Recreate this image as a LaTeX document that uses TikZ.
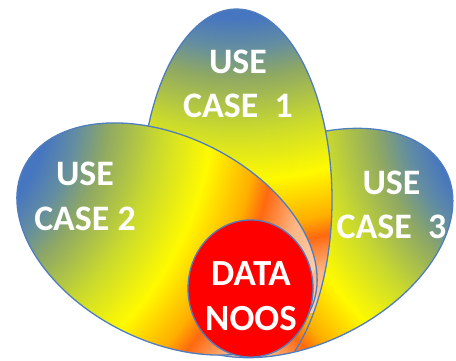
\documentclass[tikz,border=0pt]{standalone}
\usepackage{fontspec}
\setmainfont{Carlito}
\definecolor{petalblue}{RGB}{70,118,192}
\definecolor{petalslate}{RGB}{100,142,160}
\definecolor{petalolive}{RGB}{142,168,100}
\definecolor{petalyg}{RGB}{202,218,45}
\definecolor{petalyellow}{RGB}{255,250,0}
\definecolor{petalorange}{RGB}{255,175,0}
\definecolor{petaldeep}{RGB}{255,105,15}
\definecolor{petallight}{RGB}{252,180,130}
\definecolor{petalpeach}{RGB}{250,205,170}
\definecolor{edgeblue}{RGB}{80,125,190}
\definecolor{datared}{RGB}{255,0,0}
\pgfdeclareradialshading{petal}{\pgfpointorigin}{%
  color(0bp)=(petalblue); color(9.1bp)=(petalblue); color(10.7bp)=(petalslate);
  color(12.24bp)=(petalolive); color(15.1bp)=(petalyg); color(17.86bp)=(petalyellow);
  color(20.3bp)=(petalorange); color(21.35bp)=(petaldeep); color(23.2bp)=(petallight);
  color(25bp)=(petalpeach); color(50bp)=(petalpeach)}
\tikzset{
  petaledge/.style={draw=edgeblue, line width=1.3bp},
  usecase/.style={text=white, align=center, inner sep=0pt,
    font=\fontsize{36}{44.5}\selectfont\bfseries},
}
\begin{document}
\begin{tikzpicture}[x=1bp,y=1bp]
  \useasboundingbox (0,0) rectangle (456,360);
  % petals: centre, half axes, direction of the tip, lowest visible y,
  % centre and size of the colour rings
  \foreach \cx/\cy/\a/\b/\ang/\low/\uc/\s in {303/117/160/100/206.7/0/-320/442,
      236.5/160/191/95.5/-90/10/-350/462, 167/121/160/102/-26.7/0/-320/466}{
    \begin{scope}
      \clip (0,\low) rectangle (456,360);
      \begin{scope}[transform canvas={shift={(\cx,\cy)},rotate=\ang}]
        \begin{scope}
          \clip (0,0) ellipse ({\a} and {\b});
          \shade[shading=petal] (\uc-\s,-\s) rectangle (\uc+\s,\s);
        \end{scope}
        \draw[petaledge] (0,0) ellipse ({\a} and {\b});
      \end{scope}
    \end{scope}
  }
  \draw[petaledge, fill=datared] (250.5,71.5) ellipse (62.5 and 68.5);
  \node[usecase] (uc1) at (238,276.3) {USE\\CASE\ \ 1};
  \node[usecase] (uc2) at (85,163.7) {USE\\CASE 2};
  \node[usecase] (uc3) at (391.5,155) {USE\\CASE\ \ 3};
  \node[usecase, font=\fontsize{37}{45}\selectfont\bfseries] (data) at (251,64.2) {DATA\\NOOS};
\end{tikzpicture}
\end{document}
